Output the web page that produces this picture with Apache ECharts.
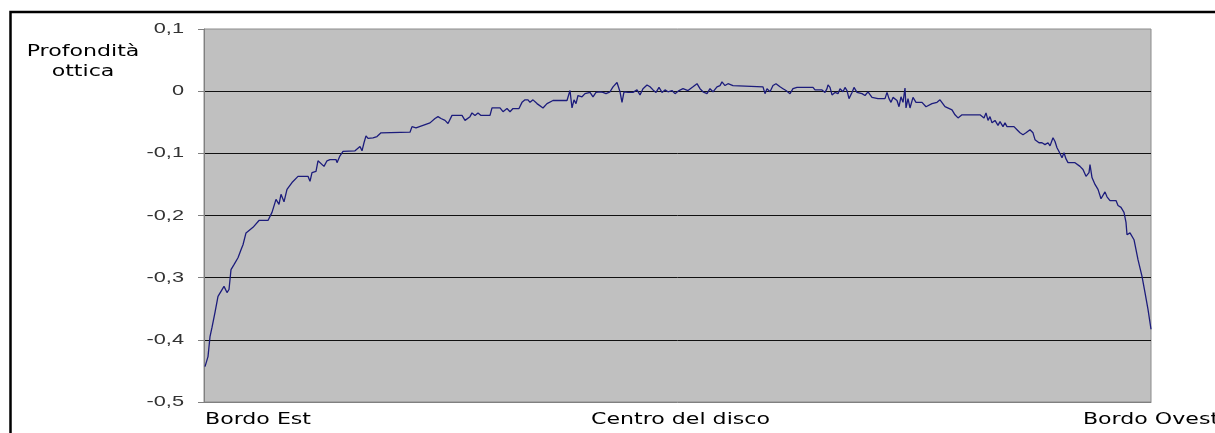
<!DOCTYPE html>
<html>
<head>
<meta charset="utf-8">
<script src="https://cdn.jsdelivr.net/npm/echarts@6/dist/echarts.min.js"></script>
<style>
  html, body { margin: 0; padding: 0; background: #ffffff; }
  #chart { width: 1215px; height: 433px; }
</style>
</head>
<body>
<div id="chart"></div>
<script>
// Optical depth profile across the solar disc, east limb to west limb.
const edgeLabels = ['Bordo Est', 'Centro del disco', 'Bordo Ovest'];
const yTicks = [-0.5, -0.4, -0.3, -0.2, -0.1, 0, 0.1];
const yTitle = 'Profondità\nottica';
const scanSpan = 947;

// Scan position along the disc diameter
const scanPos = [
  1, 4, 6, 8, 11, 14, 20, 23, 25, 27, 30, 34, 37, 39, 42, 44, 49, 55, 64, 68,
  72, 75, 77, 80, 83, 88, 94, 104, 106, 108, 112, 114, 116, 120, 123, 126, 132, 133, 136, 139,
  151, 156, 158, 160, 162, 164, 166, 169, 173, 177, 206, 208, 212, 214, 226, 231, 234, 237, 241, 244,
  248, 258, 261, 266, 268, 271, 274, 277, 286, 288, 296, 299, 303, 306, 309, 315, 318, 321, 324, 326,
  329, 333, 339, 343, 349, 354, 363, 365, 366, 368, 370, 372, 374, 378, 381, 386, 389, 392, 396, 399,
  402, 406, 409, 413, 416, 418, 420, 424, 429, 433, 436, 439, 443, 446, 449, 452, 455, 458, 461, 464,
  468, 471, 475, 479, 484, 489, 493, 496, 499, 503, 506, 509, 513, 516, 518, 521, 524, 529, 559, 561,
  563, 566, 569, 572, 576, 579, 582, 584, 586, 589, 593, 609, 611, 618, 621, 623, 624, 626, 628, 631,
  634, 636, 639, 641, 643, 645, 648, 650, 653, 655, 658, 661, 664, 668, 674, 681, 683, 685, 687, 689,
  691, 693, 695, 697, 699, 701, 702, 704, 706, 709, 712, 718, 722, 724, 728, 733, 736, 741, 748, 751,
  754, 758, 776, 778, 780, 782, 784, 786, 788, 791, 794, 796, 799, 801, 803, 810, 813, 816, 819, 822,
  824, 826, 827, 829, 831, 835, 838, 841, 844, 846, 849, 851, 853, 855, 856, 858, 860, 862, 864, 871,
  876, 879, 882, 885, 886, 888, 891, 894, 897, 899, 901, 903, 906, 912, 914, 917, 919, 920, 922, 923,
  926, 930, 932, 934, 938, 941, 944, 947
];

// Optical depth at each scan position
const depth = [
  -0.443, -0.427, -0.395, -0.380, -0.356, -0.330, -0.314, -0.324, -0.319, -0.287, -0.279, -0.268, -0.255, -0.247, -0.228, -0.231, -0.219, -0.208, -0.208, -0.195,
  -0.174, -0.182, -0.166, -0.178, -0.158, -0.147, -0.137, -0.137, -0.145, -0.131, -0.129, -0.112, -0.115, -0.121, -0.112, -0.110, -0.110, -0.115, -0.104, -0.097,
  -0.096, -0.089, -0.096, -0.083, -0.072, -0.076, -0.073, -0.075, -0.073, -0.067, -0.066, -0.057, -0.059, -0.057, -0.051, -0.044, -0.041, -0.044, -0.047, -0.052,
  -0.039, -0.039, -0.047, -0.041, -0.035, -0.039, -0.035, -0.039, -0.039, -0.027, -0.027, -0.033, -0.028, -0.033, -0.028, -0.028, -0.018, -0.014, -0.014, -0.018,
  -0.014, -0.020, -0.027, -0.020, -0.015, -0.015, -0.015, -0.018, 0.001, -0.027, -0.014, -0.020, -0.007, -0.009, -0.004, -0.002, -0.009, -0.002, -0.001, -0.002,
  -0.004, -0.001, 0.007, 0.014, -0.001, -0.018, -0.001, -0.002, -0.002, 0.002, -0.006, 0.004, 0.010, 0.007, 0.002, -0.002, 0.006, -0.002, 0.002, -0.001,
  0.001, -0.004, 0.001, 0.004, 0.001, 0.007, 0.012, 0.004, -0.001, -0.004, 0.004, -0.001, 0.007, 0.009, 0.015, 0.009, 0.012, 0.009, 0.007, -0.004,
  0.004, -0.001, 0.009, 0.012, 0.007, 0.004, 0.001, -0.002, -0.004, 0.004, 0.006, 0.006, 0.002, 0.002, -0.002, 0.004, 0.010, 0.006, -0.006, -0.002,
  -0.004, 0.004, -0.001, 0.006, 0.001, -0.012, -0.002, 0.006, -0.002, -0.001, -0.004, -0.007, -0.001, -0.010, -0.012, -0.012, -0.002, -0.012, -0.018, -0.010,
  -0.007, -0.015, -0.025, -0.009, -0.018, 0.005, -0.027, -0.012, -0.027, -0.010, -0.018, -0.018, -0.025, -0.025, -0.020, -0.018, -0.014, -0.025, -0.030, -0.038,
  -0.043, -0.038, -0.038, -0.035, -0.043, -0.035, -0.047, -0.041, -0.051, -0.047, -0.055, -0.049, -0.057, -0.051, -0.057, -0.057, -0.062, -0.067, -0.070, -0.067,
  -0.065, -0.062, -0.059, -0.067, -0.078, -0.083, -0.083, -0.086, -0.083, -0.088, -0.075, -0.081, -0.091, -0.097, -0.094, -0.107, -0.099, -0.109, -0.115, -0.115,
  -0.121, -0.126, -0.137, -0.131, -0.118, -0.139, -0.150, -0.158, -0.173, -0.170, -0.162, -0.170, -0.176, -0.176, -0.184, -0.187, -0.184, -0.195, -0.211, -0.231,
  -0.228, -0.239, -0.255, -0.271, -0.298, -0.324, -0.351, -0.383
];

const comicFont = '"Comic Sans MS", "DejaVu Sans", sans-serif';
const numFont = '"Liberation Sans", Arial, sans-serif';
// the lettering is set wide, so every label is stretched sideways
const wideX = 1.38;

const chart = echarts.init(document.getElementById('chart'), null, { renderer: 'canvas' });

chart.setOption({
  backgroundColor: '#ffffff',
  animation: false,
  grid: {
    left: 204,
    top: 29,
    width: 947,
    height: 373,
    show: true,
    backgroundColor: '#c0c0c0',
    borderColor: '#8c8c8c',
    borderWidth: 1
  },
  xAxis: {
    type: 'value',
    min: 0,
    max: scanSpan,
    interval: scanSpan / 2,
    axisLine: { show: true, onZero: false, lineStyle: { color: '#808080', width: 1 } },
    axisTick: { show: false },
    splitLine: { show: false },
    axisLabel: { show: false }
  },
  yAxis: {
    type: 'value',
    min: yTicks[0],
    max: yTicks[yTicks.length - 1],
    interval: 0.1,
    axisLine: { show: true, lineStyle: { color: '#808080', width: 1 } },
    axisTick: { show: true, length: 6, lineStyle: { color: '#808080' } },
    splitLine: {
      show: true,
      showMinLine: false,
      showMaxLine: false,
      lineStyle: { color: '#111111', width: 1 }
    },
    axisLabel: { show: false }
  },
  series: [{
    type: 'line',
    data: scanPos.map((p, i) => [p, depth[i]]),
    symbol: 'none',
    smooth: false,
    lineStyle: { color: '#1c1c7c', width: 1.3 }
  }]
});

function wideText(text, x, y, align, vAlign, font, fill, sx) {
  return {
    type: 'text',
    x: x,
    y: y,
    scaleX: sx,
    silent: true,
    style: {
      text: text,
      x: 0,
      y: 0,
      align: align,
      textAlign: align,
      verticalAlign: vAlign,
      textVerticalAlign: vAlign,
      font: font,
      fill: fill,
      lineHeight: 20
    }
  };
}

const elements = [{
  type: 'rect',
  shape: { x: 10.5, y: 12, width: 1230, height: 450 },
  style: { fill: null, stroke: '#000000', lineWidth: 2.5 },
  silent: true
}];

// value labels along the depth axis
yTicks.forEach(function (v) {
  const p = chart.convertToPixel({ gridIndex: 0 }, [0, v]);
  const r = Math.round(v * 10) / 10;
  const txt = r === 0 ? '0' : r.toFixed(1).replace('.', ',');
  elements.push(wideText(txt, 184, p[1], 'right', 'middle', '15px ' + numFont, '#333333', 1.45));
});

// limb and centre labels under the scan axis
const labelAligns = ['left', 'center', 'center'];
edgeLabels.forEach(function (name, i) {
  const p = chart.convertToPixel({ gridIndex: 0 }, [i * scanSpan / 2, yTicks[0]]);
  const dx = i === 0 ? 1 : (i === 1 ? 3 : 0);
  elements.push(wideText(name, p[0] + dx, p[1] + 18, labelAligns[i], 'middle', '16px ' + comicFont, '#000000', wideX));
});

// depth axis title
elements.push(wideText(yTitle, 83, 62, 'center', 'middle', '16px ' + comicFont, '#000000', wideX));

chart.setOption({ graphic: { elements: elements } });
</script>
</body>
</html>
